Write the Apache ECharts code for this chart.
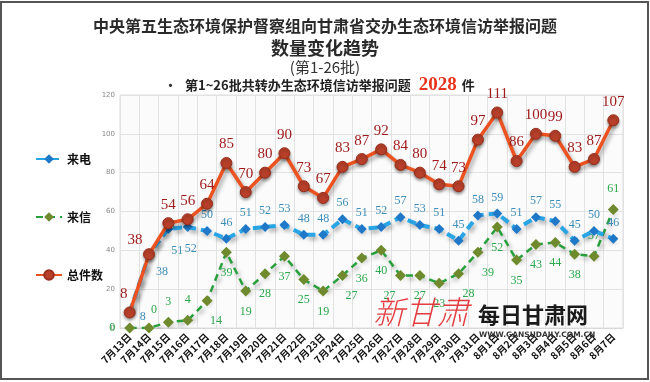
<!DOCTYPE html>
<html><head><meta charset="utf-8">
<script src="https://cdn.jsdelivr.net/npm/echarts@6/dist/echarts.min.js"></script>
<style>html,body{margin:0;padding:0;background:#fff}#c{width:650px;height:382px}</style>
</head><body><div id="c"></div>
<script>
var categories = ['7月13日','7月14日','7月15日','7月16日','7月17日','7月18日','7月19日','7月20日','7月21日','7月22日','7月23日','7月24日','7月25日','7月26日','7月27日','7月28日','7月29日','7月30日','7月31日','8月1日','8月2日','8月3日','8月4日','8月5日','8月6日','8月7日'];
var phoneCalls = [8,38,51,52,50,46,51,52,53,48,48,56,51,52,57,53,51,45,58,59,51,57,55,45,50,46];
var letters = [0,0,3,4,14,39,19,28,37,25,19,27,36,40,27,27,23,28,39,52,35,43,44,38,37,61];
var totals = [8,38,54,56,64,85,70,80,90,73,67,83,87,92,84,80,74,73,97,111,86,100,99,83,87,107];
var yTicks = {min:0, max:120, interval:20};
var titleLines = ['中央第五生态环境保护督察组向甘肃省交办生态环境信访举报问题','数量变化趋势','(第1-26批)'];
var summaryText = '第1~26批共转办生态环境信访举报问题';
var summaryCount = '2028';
var summaryUnit = '件';
var seriesNames = ['来电','来信','总件数'];

var CJK = '"Noto Sans CJK SC", sans-serif';
var SERIF = '"Liberation Serif", "DejaVu Serif", serif';

// label placement tweaks (layout only)
var phoneLabelTweak = {0:{position:'right',offset:[0,4]},1:{position:'bottom',offset:[13,2]},2:{position:'bottom',offset:[9,6]},3:{position:'bottom',offset:[3,6]}};
var letterLabelTweak = {0:{position:'left'},1:{position:'top',offset:[5,2]},2:{position:'top'},3:{position:'top'},4:{position:'bottom',offset:[9,0]},11:{position:'bottom',offset:[9,0]},14:{position:'bottom',offset:[-11,0]},17:{position:'bottom',offset:[10,0]},18:{position:'bottom',offset:[10,0]},24:{position:'top'},25:{position:'top'}};
var totalLabelTweak = {0:{offset:[-6,0]},1:{offset:[-14,4]}};

function build(vals, tweaks){
  return vals.map(function(v,i){
    var o = {value:v};
    if (tweaks[i]) o.label = tweaks[i];
    return o;
  });
}

var shadow = {shadowColor:'rgba(0,0,0,0.35)', shadowBlur:4, shadowOffsetX:2, shadowOffsetY:3};

var chart = echarts.init(document.getElementById('c'), null, {renderer:'canvas'});
chart.setOption({
  backgroundColor:'#fff',
  animation:false,
  title:[
    {text:titleLines[0], left:'center', top:13, textStyle:{fontFamily:CJK, fontSize:16, fontWeight:'bold', color:'#2a2a2a'}},
    {text:titleLines[1], left:'center', top:34, textStyle:{fontFamily:CJK, fontSize:18, fontWeight:'bold', color:'#2a2a2a'}},
    {text:titleLines[2], left:'center', top:55, textStyle:{fontFamily:CJK, fontSize:15, fontWeight:'normal', color:'#333'}},
    {text:'{b|•} {t|'+summaryText+'} {n|'+summaryCount+'} {u|'+summaryUnit+'}', left:159, top:71,
     textStyle:{rich:{
       b:{fontSize:13, fontWeight:'bold', color:'#333', fontFamily:CJK, padding:[0,3,0,0]},
       t:{fontSize:13, fontWeight:'bold', color:'#222', fontFamily:CJK},
       n:{fontSize:19, fontWeight:'bold', color:'#e8321c', fontFamily:SERIF, padding:[0,0,0,3]},
       u:{fontSize:13, fontWeight:'bold', color:'#222', fontFamily:CJK}
     }}}
  ],
  legend:{
    orient:'vertical', left:30, top:148, itemGap:46, itemWidth:26, itemHeight:12,
    data:seriesNames,
    textStyle:{fontFamily:CJK, fontSize:12, fontWeight:'bold', color:'#111'}
  },
  grid:{left:120, right:27, top:95, bottom:54, show:true, backgroundColor:'#fbfbfb', borderColor:'#dcdcdc', borderWidth:1},
  xAxis:{
    type:'category', data:categories, boundaryGap:true,
    axisLine:{show:true, lineStyle:{color:'#d8d8d8'}},
    axisTick:{show:false},
    splitLine:{show:true, lineStyle:{color:'#e2e2e2', width:1}},
    axisLabel:{rotate:45, interval:0, margin:7, fontFamily:CJK, fontSize:10, fontWeight:'bold', color:'#111'}
  },
  yAxis:{
    type:'value', min:yTicks.min, max:yTicks.max, interval:yTicks.interval,
    axisLine:{show:false}, axisTick:{show:false},
    splitLine:{lineStyle:{color:'#e2e2e2'}},
    axisLabel:{fontSize:7, color:'#888', margin:5, fontFamily:'"DejaVu Sans", sans-serif'}
  },
  series:[
    {name:seriesNames[1], type:'line', z:2, data:build(letters, letterLabelTweak),
     symbol:'diamond', symbolSize:11,
     itemStyle:{color:'#6e8a2c'},
     lineStyle:Object.assign({color:'#27a03c', width:2.5, type:[7,5]}, shadow),
     label:{show:true, position:'bottom', distance:9, fontFamily:SERIF, fontSize:12, color:'#2aa84a'}},
    {name:seriesNames[0], type:'line', z:3, data:build(phoneCalls, phoneLabelTweak),
     symbol:'diamond', symbolSize:10,
     itemStyle:{color:'#1f78c8'},
     lineStyle:Object.assign({color:'#29a5e6', width:4, type:[9,5]}, shadow),
     label:{show:true, position:'top', fontFamily:SERIF, fontSize:12, color:'#3c8db8'}},
    {name:seriesNames[2], type:'line', z:4, data:build(totals, totalLabelTweak),
     symbol:'circle', symbolSize:11,
     itemStyle:{color:'#b8402a', borderColor:'#9a2e1c', borderWidth:1, shadowColor:'rgba(0,0,0,0.35)', shadowBlur:3, shadowOffsetY:2},
     lineStyle:Object.assign({color:'#ec5220', width:3.5}, shadow),
     label:{show:true, position:'top', fontFamily:SERIF, fontSize:15, color:'#a01c1c'}}
  ],
  graphic:[
    {type:'rect', shape:{x:1, y:2, width:647, height:377}, style:{fill:'none', stroke:'#555', lineWidth:2}, silent:true, z:100},
    {type:'text', left:373, top:296, z:50, silent:true, style:{text:'新甘肃', font:'italic 300 32px "Noto Sans CJK SC"', fill:'rgba(224,40,44,0.9)'}},
    {type:'text', left:478, top:304, z:50, silent:true, style:{text:'每日甘肃网', font:'bold 22px "Noto Sans CJK SC"', fill:'#1a1a1a'}},
    {type:'text', left:479, top:331, z:50, silent:true, style:{text:'WWW.GANSUDAILY.COM.CN', font:'bold 7.5px "DejaVu Sans"', fill:'#333'}}
  ]
});
</script></body></html>
